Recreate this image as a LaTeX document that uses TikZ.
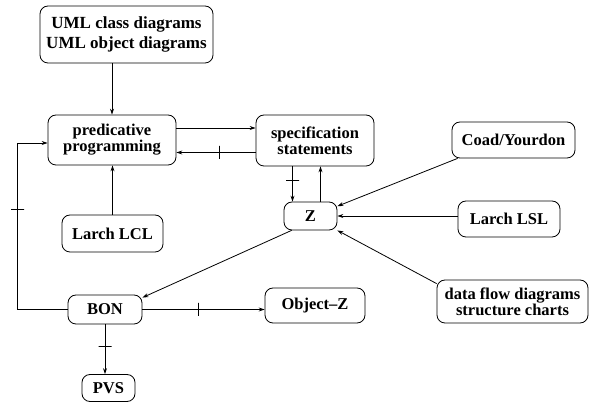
\documentclass[tikz,border=0pt]{standalone}
\usepackage{fontspec}
\setmainfont{Liberation Serif}
\usetikzlibrary{arrows.meta}

\begin{document}
\begin{tikzpicture}[x=1pt,y=-1pt,line width=0.8pt,>={Stealth[length=6pt,width=4pt]},
  box/.style={draw,rounded corners=8pt,align=center,inner sep=0pt,
    font=\fontsize{16.5}{16}\selectfont\bfseries},
  cut/.style={draw,sloped,inner sep=0pt,minimum width=0pt,minimum height=13pt,pos=#1}]
\useasboundingbox (0,0) rectangle (590,403);
\node[box,minimum width=173pt,minimum height=57pt,font=\fontsize{17}{20}\selectfont\bfseries] (uml) at (126.5,34.5) {UML class diagrams\\UML object diagrams};
\node[box,minimum width=128pt,minimum height=50pt] (pred) at (112,140) {predicative\\programming};
\node[box,minimum width=118pt,minimum height=51pt] (spec) at (315,140.5) {specification\\statements};
\node[box,minimum width=123pt,minimum height=36pt] (coad) at (513.5,140) {Coad/Yourdon};
\node[box,minimum width=53pt,minimum height=28pt] (z) at (310.5,216) {Z};
\node[box,minimum width=102pt,minimum height=36pt] (lsl) at (509,219) {Larch LSL};
\node[box,minimum width=101pt,minimum height=37pt] (lcl) at (112.5,233.5) {Larch LCL};
\node[box,minimum width=74pt,minimum height=29pt] (bon) at (105,309.5) {BON};
\node[box,minimum width=100pt,minimum height=35pt] (objz) at (315,305.5) {Object--Z};
\node[box,minimum width=151pt,minimum height=43pt] (dfd) at (512.5,301.5) {data flow diagrams\\structure charts};
\node[box,minimum width=53pt,minimum height=27pt] (pvs) at (108.5,388) {PVS};
\draw[->] (uml.south -| pred.north) -- (pred.north);
\draw[->] ([yshift=12pt]pred.east) -- ([yshift=12pt]pred.east -| spec.west);
\draw[->] ([yshift=-12pt]spec.west) -- node[cut=0.46]{} ([yshift=-12pt]spec.west -| pred.east);
\draw[->] ([xshift=-18pt]z.north |- spec.south) -- node[cut=0.39]{} ([xshift=-18pt]z.north);
\draw[->] ([xshift=10pt]z.north) -- ([xshift=10pt]z.north |- spec.south);
\draw[->] ([xshift=6pt]coad.south west) -- (z.20);
\draw[->] (lsl.west |- z.east) -- (z.east);
\draw[->] ([yshift=-4pt]dfd.north west) -- (z.south east);
\draw[->] ([xshift=8pt]z.south west) -- ([yshift=-3pt]bon.north east);
\draw[->] (lcl.north) -- (lcl.north |- pred.south);
\draw[->] (bon.west) -- ++(-50,0) |- node[cut=0.3]{} ([yshift=-3pt]pred.west);
\draw[->] (bon.east) -- node[cut=0.46]{} (bon.east -| objz.west);
\draw[->] (bon.south) -- node[cut=0.45]{} (bon.south |- pvs.north);
\end{tikzpicture}
\end{document}
